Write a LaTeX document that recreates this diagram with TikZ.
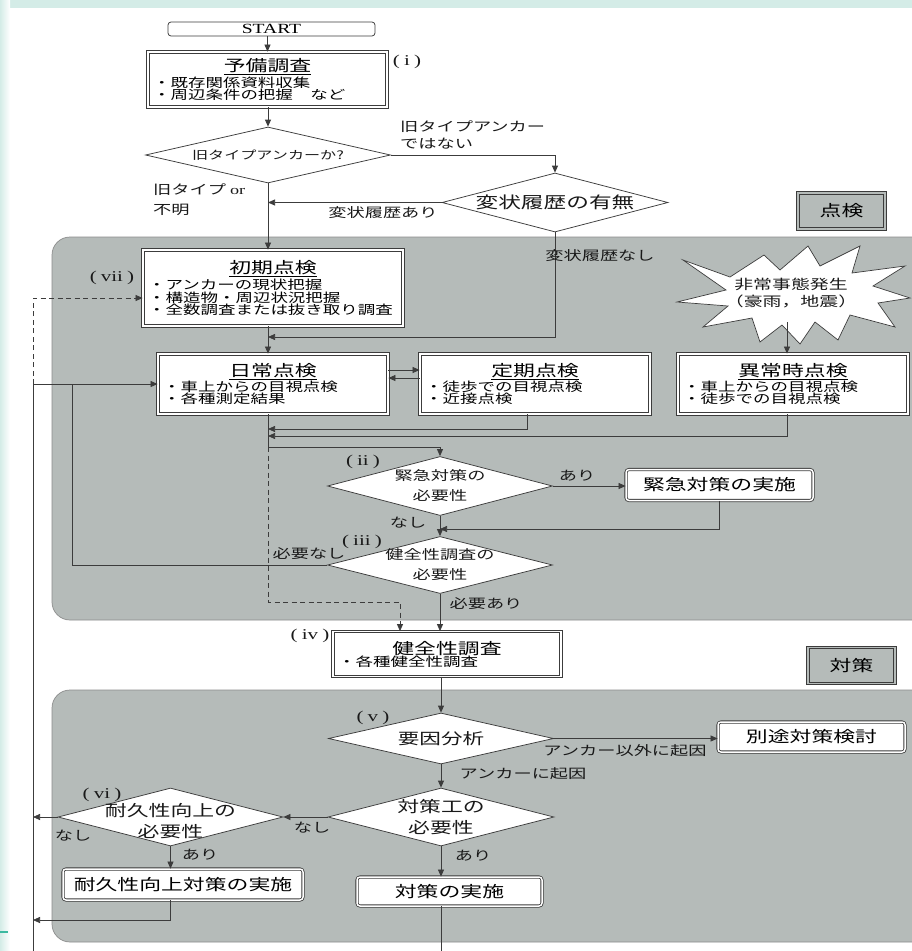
\documentclass[tikz,border=0pt]{standalone}
\usepackage{fontspec}
\setmainfont{Liberation Serif}[FakeStretch=1.4]
\newfontfamily\jp{Noto Sans CJK JP}[FakeStretch=1.4]
\usetikzlibrary{arrows.meta,shapes.geometric,calc}
\definecolor{regiongray}{RGB}{181,187,185}
\definecolor{linec}{RGB}{60,60,60}
\definecolor{tealA}{RGB}{212,236,231}
\definecolor{tealB}{RGB}{60,185,160}
\newcommand\fA{\jp\fontsize{12.5}{13.5}\selectfont}
\newcommand\fB{\jp\fontsize{15.6}{18}\selectfont}
\newcommand\fC{\jp\fontsize{13}{17}\selectfont}
\newcommand\rn[1]{{\rmfamily\fontsize{15}{17}\selectfont(\;#1\;)}}
\newcommand\ttl[1]{{\centering\fB\underline{#1}\par}\vspace{1pt}}
\newcommand\ttlnu[1]{{\centering\fB #1\par}\vspace{0pt}}
\begin{document}
\begin{tikzpicture}[x=1pt,y=-1pt,
 conn/.style={draw=linec,line width=0.75pt},
 arr/.style={conn,-{Triangle[length=7pt,width=6pt]}},
 dsh/.style={dash pattern=on 5pt off 3.5pt},
 box/.style={draw=linec,line width=0.8pt,double=white,double distance=1.5pt,fill=white,inner xsep=5pt,inner ysep=2pt},
 rbox/.style={box,rounded corners=3pt,align=center,font=\fB},
 dia/.style={shape=diamond,draw=linec,line width=0.75pt,fill=white,inner sep=0pt},
 lab/.style={inner sep=0pt,font=\fC,text=black!90},
 tagbox/.style={draw=linec,line width=0.8pt,double=regiongray,double distance=1.5pt,fill=regiongray,minimum width=87pt,minimum height=36pt,font=\fB},
]
\useasboundingbox (0,0) rectangle (912,951);
\clip (0,0) rectangle (912,951);
\fill[white] (0,0) rectangle (912,951);
\fill[tealA] (0,0) rectangle (912,8);
\shade[left color=tealA,right color=white] (0,0) rectangle (10,951);
\draw[tealB,line width=1.5pt] (0,932) -- (8,932);

% regions
\draw[fill=regiongray,draw=black!45,line width=0.7pt,rounded corners=18pt] (52,237) rectangle (930,620);
\draw[fill=regiongray,draw=black!45,line width=0.7pt,rounded corners=18pt] (52,690) rectangle (930,942);
\node[tagbox] (tenken) at (841.5,211) {点検};
\node[tagbox] (taisakutag) at (851.5,665.5) {対策};

% boxes
\node[draw=linec,line width=0.75pt,rounded corners=3pt,fill=white,minimum width=207pt,minimum height=14pt,inner sep=0pt,font=\rmfamily\fontsize{14}{14}\selectfont] (start) at (271.5,29) {START};
\node[box,minimum width=239pt,minimum height=55pt,text width=229pt,align=left] (yobi) at (267.5,79.5)
 {\ttl{予備調査}\fA ・既存関係資料収集\\・周辺条件の把握　など};
\node[box,minimum width=260pt,minimum height=76pt,text width=250pt,align=left] (shoki) at (273,288)
 {\ttl{初期点検}\fA ・アンカーの現状把握\\・構造物・周辺状況把握\\・全数調査または抜き取り調査};
\node[box,minimum width=230pt,minimum height=60pt,text width=220pt,align=left] (nichijo) at (273,384)
 {\ttl{日常点検}\fA ・車上からの目視点検\\・各種測定結果};
\node[box,minimum width=230pt,minimum height=60pt,text width=220pt,align=left] (teiki) at (535,384)
 {\ttl{定期点検}\fA ・徒歩での目視点検\\・近接点検};
\node[box,minimum width=230pt,minimum height=60pt,text width=220pt,align=left] (ijo) at (793,384)
 {\ttl{異常時点検}\fA ・車上からの目視点検\\・徒歩での目視点検};
\node[box,minimum width=228pt,minimum height=45pt,text width=218pt,align=left] (kenzen) at (447,654)
 {\ttlnu{健全性調査}\fA ・各種健全性調査};
\node[rbox,minimum width=187pt,minimum height=31pt] (kinkyu) at (719.5,485) {緊急対策の実施};
\node[rbox,minimum width=187pt,minimum height=30pt] (betto) at (811.5,737) {別途対策検討};
\node[rbox,minimum width=240pt,minimum height=31pt] (taikyu) at (183,884.5) {耐久性向上対策の実施};
\node[rbox,minimum width=185pt,minimum height=29pt] (jisshi) at (449.5,891.5) {対策の実施};

% diamonds
\node[dia,minimum width=245pt,minimum height=56pt] (q1) at (268,155) {};
\node[lab,font=\jp\fontsize{11.5}{13}\selectfont] (q1t) at (q1.center) {旧タイプアンカーか?};
\node[dia,minimum width=226pt,minimum height=59pt] (q2) at (555,202.5) {};
\node[lab,font=\jp\fontsize{16.2}{18}\selectfont] (q2t) at (q2.center) {変状履歴の有無};
\node[dia,minimum width=225pt,minimum height=59pt] (qii) at (440,486) {};
\node[lab,align=center,font=\jp\fontsize{13}{20}\selectfont] (qiit) at (qii.center) {緊急対策の\\必要性};
\node[dia,minimum width=225pt,minimum height=57pt] (qiii) at (440,565) {};
\node[lab,align=center,font=\jp\fontsize{13}{20}\selectfont] (qiiit) at (qiii.center) {健全性調査の\\必要性};
\node[dia,minimum width=225pt,minimum height=51pt] (youin) at (441,738.5) {};
\node[lab,font=\jp\fontsize{15.4}{18}\selectfont] (youint) at (youin.center) {要因分析};
\node[dia,minimum width=226pt,minimum height=58pt] (tk) at (441,817) {};
\node[lab,align=center,font=\jp\fontsize{15.6}{21}\selectfont] (tkt) at (tk.center) {対策工の\\必要性};
\node[dia,minimum width=225pt,minimum height=58pt] (vi) at (170.5,817) {};
\node[lab,align=center,font=\jp\fontsize{15.6}{21}\selectfont] (vit) at ($(vi.center)+(0,4)$) {耐久性向上の\\必要性};

% starburst
\draw[draw=linec,line width=0.7pt,fill=white] (683,260) -- (730,277) -- (764,255) -- (780,270) -- (808,246) -- (820,266) -- (860,246) -- (852,273) -- (905,266) -- (873,286) -- (910,298) -- (878,303) -- (895,327) -- (850,315) -- (838,340) -- (815,322) -- (800,344) -- (782,325) -- (760,342) -- (752,318) -- (703,327) -- (728,306) -- (677,302) -- (726,290) -- cycle;
\node[lab,align=center,font=\jp\fontsize{13.5}{17}\selectfont] (burst) at (791,293) {非常事態発生\\（豪雨，地震）};

% coordinates
\coordinate (lft) at (33,384);
\coordinate (lftin) at (72,384);
\coordinate (botL) at (33,951);
\coordinate (botR) at (441,951);
\coordinate (m1) at (268,337);
\coordinate (j1) at (268,429);
\coordinate (j2) at (268,436);
\coordinate (j3) at (268,447);
\coordinate (d1) at (268,602);
\coordinate (j4) at (440,529);
\coordinate (L1) at (33,920);
\coordinate (burstb) at (787,322);

% connectors
\draw[arr] (yobi.north |- start.south) -- (yobi.north);
\draw[arr] (yobi.south -| q1.north) -- (q1.north);
\draw[arr] (q1.east) -| (q2.north);
\draw[arr] (q2.west) -- (q2.west -| q1.south);
\draw[arr] (q1.south) -- (q1.south |- shoki.north);
\draw[arr] (q2.south) |- (m1);
\draw[arr] (q1.south |- shoki.south) -- (q1.south |- nichijo.north);
\draw[arr,dsh] (lft) |- ($(shoki.west)+(0,10)$);
\draw[arr] (botL) -- (lft) -- (nichijo.west);
\draw[conn] (qiii.west) -| (lftin);
\draw[arr] ($(nichijo.east)+(0,-14)$) -- ($(teiki.west)+(0,-14)$);
\draw[arr] ($(teiki.west)+(0,-6)$) -- ($(nichijo.east)+(0,-6)$);
\draw[arr] (burstb) -- (burstb |- ijo.north);
\draw[arr] ($(teiki.south)+(-8,0)$) |- (j1);
\draw[arr] (burstb |- ijo.south) |- (j2);
\draw[conn] (q1.south |- nichijo.south) -- (j3);
\draw[arr] (j3) -| (qii.north);
\draw[arr,dsh] (j3) -- (d1) -| ($(kenzen.north)+(-47,0)$);
\draw[arr] (qii.east) -- (qii.east -| kinkyu.west);
\draw[arr] (kinkyu.south) |- (j4);
\draw[arr] (qii.south) -- (qiii.north);
\draw[arr] (qiii.south) -- (qiii.south |- kenzen.north);
\draw[arr] (kenzen.south -| youin.north) -- (youin.north);
\draw[arr] (youin.east) -- (youin.east -| betto.west);
\draw[arr] (youin.south) -- (tk.north);
\draw[arr] (tk.west) -- (vi.east);
\draw[arr] (vi.west) -- (vi.west -| lft);
\draw[arr] (vi.south) -- (vi.south |- taikyu.north);
\draw[arr] (vi.south |- taikyu.south) |- (L1);
\draw[arr] (tk.south) -- (tk.south |- jisshi.north);
\draw[conn] (tk.south |- jisshi.south) -- (botR);

% labels
\node[lab,anchor=west,align=left] (l1) at (400,135) {旧タイプアンカー\\ではない};
\node[lab,anchor=west,align=left,font=\jp\fontsize{13}{20}\selectfont] (l2) at (153,200) {旧タイプ {\rmfamily or}\\不明};
\node[lab] (l3) at (383,213) {変状履歴あり};
\node[lab] (l4) at (600,256) {変状履歴なし};
\node[lab] (ri) at (407,62) {\rn{i}};
\node[lab] (rvii) at (112,278) {\rn{vii}};
\node[lab] (rii) at (363,462) {\rn{ii}};
\node[lab] (riii) at (362,542) {\rn{iii}};
\node[lab] (riv) at (310,636) {\rn{iv}};
\node[lab] (rv) at (373,718) {\rn{v}};
\node[lab] (rvi) at (102,795) {\rn{vi}};
\node[lab] (a1) at (577,476) {あり};
\node[lab] (n1) at (408,523) {なし};
\node[lab] (n2) at (309,554) {必要なし};
\node[lab] (a2) at (486,604) {必要あり};
\node[lab] (l5) at (625,751) {アンカー以外に起因};
\node[lab] (l6) at (523,774) {アンカーに起因};
\node[lab] (n3) at (312,828) {なし};
\node[lab] (n4) at (73,836) {なし};
\node[lab] (a3) at (200,855) {あり};
\node[lab] (a4) at (473,856) {あり};
\end{tikzpicture}
\end{document}
